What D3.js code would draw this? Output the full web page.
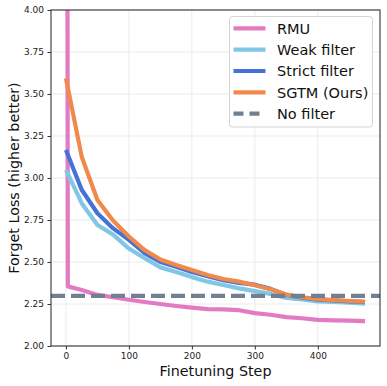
<!DOCTYPE html>
<html><head><meta charset="utf-8">
<script src="https://cdn.jsdelivr.net/npm/d3@7"></script>
<style>body{margin:0;background:#fff}svg{display:block;font-family:"DejaVu Sans",sans-serif}</style>
</head><body><svg id="c" width="387" height="386"></svg>
<script>
const steps = [0,25,50,75,100,125,150,175,200,225,250,275,300,325,350,375,400,425,450,475];
const rmuSteps = [0,3,25,50,75,100,125,150,175,200,225,250,275,300,325,350,375,400,425,450,475];
const rmu = [12,2.355,2.333,2.304,2.29,2.275,2.262,2.25,2.238,2.228,2.22,2.218,2.213,2.196,2.186,2.172,2.165,2.156,2.153,2.151,2.148];
const weak = [3.048,2.85,2.72,2.663,2.58,2.522,2.468,2.44,2.41,2.383,2.363,2.343,2.327,2.31,2.286,2.278,2.266,2.262,2.258,2.252];
const strict = [3.167,2.93,2.79,2.70,2.632,2.553,2.50,2.472,2.44,2.415,2.392,2.376,2.365,2.34,2.304,2.288,2.276,2.271,2.266,2.262];
const sgtm = [3.593,3.127,2.869,2.745,2.652,2.571,2.515,2.482,2.452,2.423,2.399,2.383,2.362,2.338,2.306,2.29,2.279,2.273,2.268,2.264];
const noFilter = 2.298;
const yTicks = [2.00,2.25,2.50,2.75,3.00,3.25,3.50,3.75,4.00];
const xTicks = [0,100,200,300,400];
const names = ["RMU","Weak filter","Strict filter","SGTM (Ours)","No filter"];
const colors = ["#e27bc4","#82c6e6","#4472d6","#f08a4b","#708090"];

const L=51,R=380,T=10,B=346;
const svg=d3.select("#c");
const x=d3.scaleLinear().domain([-23.75,498.75]).range([L,R]);
const y=d3.scaleLinear().domain([2,4]).range([B,T]);

// grid
const g=svg.append("g");
g.selectAll(".gx").data(xTicks).enter().append("line").attr("x1",d=>x(d)).attr("x2",d=>x(d)).attr("y1",T).attr("y2",B).attr("stroke","#ebebeb").attr("stroke-width",1);
g.selectAll(".gy").data(yTicks).enter().append("line").attr("y1",d=>y(d)).attr("y2",d=>y(d)).attr("x1",L).attr("x2",R).attr("stroke","#ebebeb").attr("stroke-width",1);

svg.append("clipPath").attr("id","clip").append("rect").attr("x",L).attr("y",T).attr("width",R-L).attr("height",B-T);
const plot=svg.append("g").attr("clip-path","url(#clip)");
const line=(xs)=>d3.line().x((d,i)=>x(xs[i])).y(d=>y(d));
const series=[[rmuSteps,rmu],[steps,weak],[steps,strict],[steps,sgtm]];
series.forEach(([xs,ys],i)=>{
  plot.append("path").datum(ys).attr("d",line(xs)).attr("fill","none").attr("stroke",colors[i]).attr("stroke-width",4.2).attr("stroke-linejoin","round");
});
plot.append("line").attr("x1",L).attr("x2",R).attr("y1",y(noFilter)).attr("y2",y(noFilter)).attr("stroke",colors[4]).attr("stroke-width",4.2).attr("stroke-dasharray","14,6");

// axes
const xa=svg.append("g").attr("transform",`translate(0,${B})`).call(d3.axisBottom(x).tickValues(xTicks).tickSize(3.5).tickPadding(3.5).tickFormat(d3.format("d")));
const ya=svg.append("g").attr("transform",`translate(${L},0)`).call(d3.axisLeft(y).tickValues(yTicks).tickSize(3.5).tickPadding(3.5).tickFormat(d3.format(".2f")));
[xa,ya].forEach(a=>{a.select(".domain").remove();a.selectAll("text").attr("font-size",9).attr("font-family","DejaVu Sans").attr("fill","#222");a.selectAll("line").attr("stroke","#333");});
svg.append("rect").attr("x",L).attr("y",T).attr("width",R-L).attr("height",B-T).attr("fill","none").attr("stroke","#333").attr("stroke-width",1.1);

svg.append("text").attr("x",(L+R)/2).attr("y",376).attr("text-anchor","middle").attr("font-size",14.3).attr("fill","#111").text("Finetuning Step");
svg.append("text").attr("transform",`translate(19,${(T+B)/2}) rotate(-90)`).attr("text-anchor","middle").attr("font-size",14.3).attr("fill","#111").text("Forget Loss (higher better)");

// legend
const lg=svg.append("g");
lg.append("rect").attr("x",229.5).attr("y",16.5).attr("width",143).attr("height",110.5).attr("rx",3).attr("fill","#fff").attr("fill-opacity",0.85).attr("stroke","#d4d4d4").attr("stroke-width",1);
names.forEach((n,i)=>{
  const yy=28.3+i*21.35;
  lg.append("line").attr("x1",233.5).attr("x2",265.5).attr("y1",yy).attr("y2",yy).attr("stroke",colors[i]).attr("stroke-width",4.2).attr("stroke-dasharray",i===4?"10,6":null);
  lg.append("text").attr("x",277).attr("y",yy+5.2).attr("font-size",14.5).attr("fill","#111").text(n);
});
</script></body></html>
